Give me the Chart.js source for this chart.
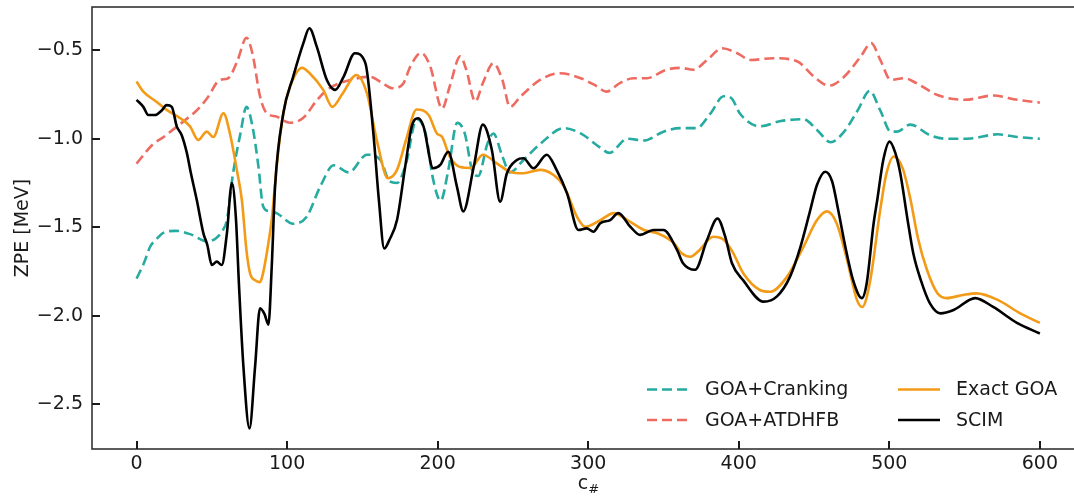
<!DOCTYPE html>
<html lang="en">
<head>
    <meta charset="UTF-8">
    <title>ZPE vs c#</title>
    <script src="https://cdn.jsdelivr.net/npm/chart.js"></script>
    <style>
        body {
            margin: 0;
            padding: 0;
            background: #ffffff;
            overflow: hidden;
        }

        .chart-container {
            position: relative;
            width: 1100px;
            height: 496px;
        }
    </style>
</head>
<body>
    <div class="chart-container">
        <canvas id="zpeChart"></canvas>
    </div>

    <script>
        // GOA+Cranking
        const crankX = [
            0, 5, 9, 14, 18, 26, 36, 47, 53, 57,
            60, 64, 69, 73, 77, 81, 84, 88, 93, 104,
            113, 122, 131, 141, 153, 162, 168, 173, 179, 186,
            192, 197, 202, 207, 213, 218, 223, 227, 233, 237,
            243, 248, 257, 268, 284, 295, 308, 314, 326, 337,
            350, 361, 372, 381, 390, 395, 401, 414, 428, 443,
            452, 461, 470, 479, 487, 494, 501, 505, 514, 527,
            538, 552, 572, 585, 600
        ];
        const crankY = [
            -1.79, -1.70, -1.61, -1.56, -1.53, -1.52, -1.54, -1.58, -1.56, -1.52,
            -1.46, -1.20, -0.97, -0.82, -0.93, -1.16, -1.38, -1.41, -1.42, -1.48,
            -1.44, -1.27, -1.15, -1.19, -1.09, -1.12, -1.24, -1.25, -1.14, -0.89,
            -0.97, -1.23, -1.35, -1.18, -0.91, -0.97, -1.18, -1.21, -1.03, -0.97,
            -1.10, -1.19, -1.12, -1.03, -0.94, -0.97, -1.05, -1.08, -1.00, -1.01,
            -0.96, -0.94, -0.94, -0.86, -0.76, -0.77, -0.86, -0.93, -0.90, -0.89,
            -0.95, -1.02, -0.96, -0.84, -0.73, -0.84, -0.96, -0.96, -0.92, -0.98,
            -1.00, -1.00, -0.975, -0.99, -1.00
        ];

        // GOA+ATDHFB
        const atdhfbX = [
            0, 11, 18, 24, 33, 40, 47, 55, 61, 67,
            73, 77, 82, 86, 93, 102, 111, 120, 128, 142,
            155, 164, 170, 177, 182, 189, 195, 203, 208, 215,
            219, 225, 230, 237, 243, 248, 255, 268, 281, 295,
            306, 312, 321, 330, 339, 352, 361, 370, 379, 389,
            399, 408, 423, 439, 450, 460, 470, 481, 488, 494,
            501, 510, 518, 532, 550, 569, 585, 600
        ];
        const atdhfbY = [
            -1.14, -1.03, -0.99, -0.95, -0.89, -0.84, -0.77, -0.67, -0.657, -0.56,
            -0.43, -0.52, -0.76, -0.85, -0.875, -0.91, -0.88, -0.78, -0.715, -0.668,
            -0.65, -0.69, -0.715, -0.69, -0.59, -0.515, -0.59, -0.83, -0.705, -0.535,
            -0.61, -0.79, -0.686, -0.574, -0.668, -0.82, -0.762, -0.668, -0.63, -0.658,
            -0.705, -0.734, -0.686, -0.658, -0.658, -0.61, -0.60, -0.61, -0.555, -0.489,
            -0.517, -0.555, -0.545, -0.564, -0.65, -0.70, -0.65, -0.536, -0.46, -0.555,
            -0.668, -0.658, -0.686, -0.753, -0.78, -0.756, -0.78, -0.796
        ];

        // Exact GOA
        const exactX = [
            0, 4.5, 13, 20, 29, 35.5, 41, 46.6, 51, 57.7,
            62, 66.6, 70, 73, 75.4, 79, 82, 84, 87, 90,
            93, 97.5, 102, 110, 115, 124, 130, 137, 146, 153,
            160, 167, 173, 179, 186, 194, 199.5, 203, 208, 215,
            222, 230, 239.5, 248, 257, 268, 277, 284, 292.5, 298,
            308, 317, 326, 337, 346, 357, 362, 368, 374, 383,
            390, 396, 403, 414, 421, 432, 443, 452, 458.6, 465,
            472, 478.5, 482, 487, 494, 498, 503, 509, 514, 519,
            525, 532, 538, 549, 558, 572, 587, 600
        ];
        const exactY = [
            -0.677, -0.734, -0.79, -0.837, -0.884, -0.93, -1.007, -0.96, -0.99, -0.856,
            -0.97, -1.176, -1.35, -1.63, -1.76, -1.80, -1.81, -1.76, -1.62, -1.44,
            -1.16, -0.855, -0.705, -0.60, -0.63, -0.724, -0.82, -0.743, -0.64, -0.743,
            -1.025, -1.223, -1.176, -1.007, -0.835, -0.866, -0.97, -0.99, -1.10, -1.16,
            -1.165, -1.09, -1.14, -1.186, -1.195, -1.176, -1.205, -1.27, -1.44, -1.497,
            -1.46, -1.42, -1.459, -1.515, -1.534, -1.59, -1.647, -1.666, -1.628, -1.553,
            -1.57, -1.64, -1.76, -1.854, -1.864, -1.78, -1.61, -1.459, -1.41, -1.477,
            -1.685, -1.91, -1.95, -1.816, -1.40, -1.20, -1.10, -1.17, -1.34, -1.56,
            -1.74, -1.873, -1.90, -1.882, -1.873, -1.91, -1.986, -2.04
        ];

        // SCIM
        const scimX = [
            0, 4.5, 7.8, 12.3, 16.7, 20, 23.4, 26.7, 30, 33.4,
            36, 40, 44.4, 47, 50, 53.3, 56.6, 60, 63.3, 66,
            68, 71, 75, 78.7, 82, 85, 87.6, 89.8, 92, 97.5,
            104, 110.8, 114.8, 119.7, 126.4, 132, 137.5, 145, 152, 157.3,
            161, 164.5, 168, 173, 178.4, 182.8, 187, 190.6, 197, 201.7,
            207, 212.8, 217, 224, 230, 236, 241.5, 246, 252.6, 257,
            263.6, 272.5, 279, 286, 293.5, 299, 303.5, 308, 314.6, 320,
            328, 334.5, 343.4, 350, 359, 363, 371, 378.9, 385.9, 391,
            395.5, 403, 416.5, 425.4, 434, 441, 447, 452, 457.5, 462,
            466, 470.8, 476, 481.8, 485, 489.6, 492, 496, 500.2, 504,
            507.3, 512, 516, 521, 527, 534, 542.7, 557, 569, 584.8,
            600
        ];
        const scimY = [
            -0.78, -0.82, -0.866, -0.866, -0.84, -0.81, -0.82, -0.93, -0.98, -1.08,
            -1.19, -1.346, -1.534, -1.60, -1.713, -1.694, -1.713, -1.534, -1.25, -1.45,
            -1.82, -2.29, -2.636, -2.29, -1.957, -1.99, -2.05, -1.72, -1.27, -0.856,
            -0.65, -0.46, -0.376, -0.48, -0.668, -0.724, -0.65, -0.517, -0.573, -0.97,
            -1.35, -1.62, -1.57, -1.459, -1.16, -0.93, -0.884, -0.93, -1.167, -1.148,
            -1.073, -1.27, -1.41, -1.157, -0.92, -1.063, -1.355, -1.195, -1.12, -1.11,
            -1.167, -1.09, -1.176, -1.31, -1.515, -1.506, -1.525, -1.477, -1.459, -1.42,
            -1.497, -1.543, -1.515, -1.515, -1.628, -1.703, -1.74, -1.572, -1.45, -1.553,
            -1.703, -1.80, -1.92, -1.89, -1.78, -1.61, -1.42, -1.26, -1.186, -1.24,
            -1.40, -1.61, -1.80, -1.90, -1.816, -1.477, -1.346, -1.12, -1.016, -1.08,
            -1.195, -1.45, -1.65, -1.80, -1.93, -1.986, -1.967, -1.90, -1.95, -2.04,
            -2.10
        ];

        const xTicks = [0, 100, 200, 300, 400, 500, 600];
        const yTicks = [-2.5, -2.0, -1.5, -1.0, -0.5];

        const FONT = 'DejaVu Sans';
        const TEXT = '#1a1a1a';

        const toPoints = (xs, ys) => xs.map((x, i) => ({ x: x, y: ys[i] }));

        // matplotlib style frame + inward ticks + x title
        const axesDecor = {
            id: 'axesDecor',
            afterDraw(chart) {
                const { ctx, chartArea: a, scales } = chart;
                ctx.save();
                ctx.setLineDash([]);
                ctx.strokeStyle = '#262626';
                ctx.lineWidth = 1.5;
                ctx.strokeRect(a.left, a.top, a.right - a.left, a.bottom - a.top);

                // inward tick marks
                ctx.strokeStyle = '#1a1a1a';
                ctx.lineWidth = 2;
                xTicks.forEach(v => {
                    const px = Math.round(scales.x.getPixelForValue(v));
                    ctx.beginPath();
                    ctx.moveTo(px, a.bottom);
                    ctx.lineTo(px, a.bottom - 8);
                    ctx.stroke();
                });
                yTicks.forEach(v => {
                    const py = Math.round(scales.y.getPixelForValue(v));
                    ctx.beginPath();
                    ctx.moveTo(a.left, py);
                    ctx.lineTo(a.left + 8, py);
                    ctx.stroke();
                });

                // x axis title: c with a # subscript
                const cx = (a.left + a.right) / 2;
                ctx.fillStyle = TEXT;
                ctx.textBaseline = 'alphabetic';
                ctx.textAlign = 'left';
                ctx.font = '19px "' + FONT + '"';
                const wc = ctx.measureText('c').width;
                ctx.font = '13px "' + FONT + '"';
                const ws = ctx.measureText('#').width;
                const x0 = cx - (wc + ws) / 2;
                ctx.font = '19px "' + FONT + '"';
                ctx.fillText('c', x0, 489);
                ctx.font = '13px "' + FONT + '"';
                ctx.fillText('#', x0 + wc, 493);
                ctx.restore();
            }
        };

        // two column legend, filled column by column
        const columnLegend = {
            id: 'columnLegend',
            afterDraw(chart, args, opts) {
                const { ctx } = chart;
                const ds = chart.data.datasets;
                ctx.save();
                ctx.font = '19px "' + FONT + '"';
                ctx.textBaseline = 'middle';
                ctx.textAlign = 'left';
                opts.items.forEach((idx, k) => {
                    const col = Math.floor(k / opts.rows);
                    const row = k % opts.rows;
                    const x = opts.x + col * opts.colGap;
                    const y = opts.y + row * opts.rowGap;
                    const d = ds[idx];
                    ctx.strokeStyle = d.borderColor;
                    ctx.lineWidth = d.borderWidth;
                    ctx.setLineDash(d.borderDash || []);
                    ctx.beginPath();
                    ctx.moveTo(x, y);
                    ctx.lineTo(x + opts.lineLen, y);
                    ctx.stroke();
                    ctx.setLineDash([]);
                    ctx.fillStyle = TEXT;
                    ctx.fillText(d.label, x + opts.lineLen + opts.textGap, y + 1);
                });
                ctx.restore();
            }
        };

        const datasets = [
            {
                label: 'GOA+Cranking',
                data: toPoints(crankX, crankY),
                borderColor: '#26aba1',
                borderDash: [10, 5],
                order: 4
            },
            {
                label: 'GOA+ATDHFB',
                data: toPoints(atdhfbX, atdhfbY),
                borderColor: '#ee6b61',
                borderDash: [10, 5],
                order: 3
            },
            {
                label: 'Exact GOA',
                data: toPoints(exactX, exactY),
                borderColor: '#f39a16',
                order: 2
            },
            {
                label: 'SCIM',
                data: toPoints(scimX, scimY),
                borderColor: '#000000',
                order: 1
            }
        ].map(d => Object.assign({
            borderWidth: 2.6,
            pointRadius: 0,
            fill: false,
            cubicInterpolationMode: 'monotone'
        }, d));

        const ctx = document.getElementById('zpeChart').getContext('2d');
        const zpeChart = new Chart(ctx, {
            type: 'line',
            data: { datasets: datasets },
            plugins: [axesDecor, columnLegend],
            options: {
                responsive: true,
                maintainAspectRatio: false,
                animation: false,
                layout: { padding: { top: 7, right: 15, bottom: 0, left: 0 } },
                scales: {
                    x: {
                        type: 'linear',
                        min: -29.6,
                        max: 630,
                        grid: { display: false, drawTicks: false },
                        border: { display: false },
                        afterBuildTicks: (scale) => { scale.ticks = xTicks.map(v => ({ value: v })); },
                        afterFit: (scale) => {
                            scale.height = 47;
                            scale.paddingLeft = 0;
                            scale.paddingRight = 0;
                        },
                        ticks: {
                            padding: 4,
                            maxRotation: 0,
                            color: TEXT,
                            font: { family: FONT, size: 19 }
                        }
                    },
                    y: {
                        min: -2.752,
                        max: -0.256,
                        grid: { display: false, drawTicks: false },
                        border: { display: false },
                        afterBuildTicks: (scale) => { scale.ticks = yTicks.map(v => ({ value: v })); },
                        afterFit: (scale) => {
                            scale.width = 92;
                            scale.paddingTop = 0;
                            scale.paddingBottom = 0;
                        },
                        title: {
                            display: true,
                            text: 'ZPE [MeV]',
                            color: TEXT,
                            font: { family: FONT, size: 19 },
                            padding: { top: 12, bottom: 0 }
                        },
                        ticks: {
                            padding: 9,
                            color: TEXT,
                            font: { family: FONT, size: 19 },
                            callback: (v) => (v < 0 ? '\u2212' : '') + Math.abs(v).toFixed(1)
                        }
                    }
                },
                plugins: {
                    legend: { display: false },
                    tooltip: { enabled: false },
                    columnLegend: {
                        items: [0, 1, 2, 3],
                        rows: 2,
                        x: 647,
                        y: 389.5,
                        colGap: 251,
                        rowGap: 30.5,
                        lineLen: 42,
                        textGap: 16
                    }
                }
            }
        });
    </script>
</body>
</html>
